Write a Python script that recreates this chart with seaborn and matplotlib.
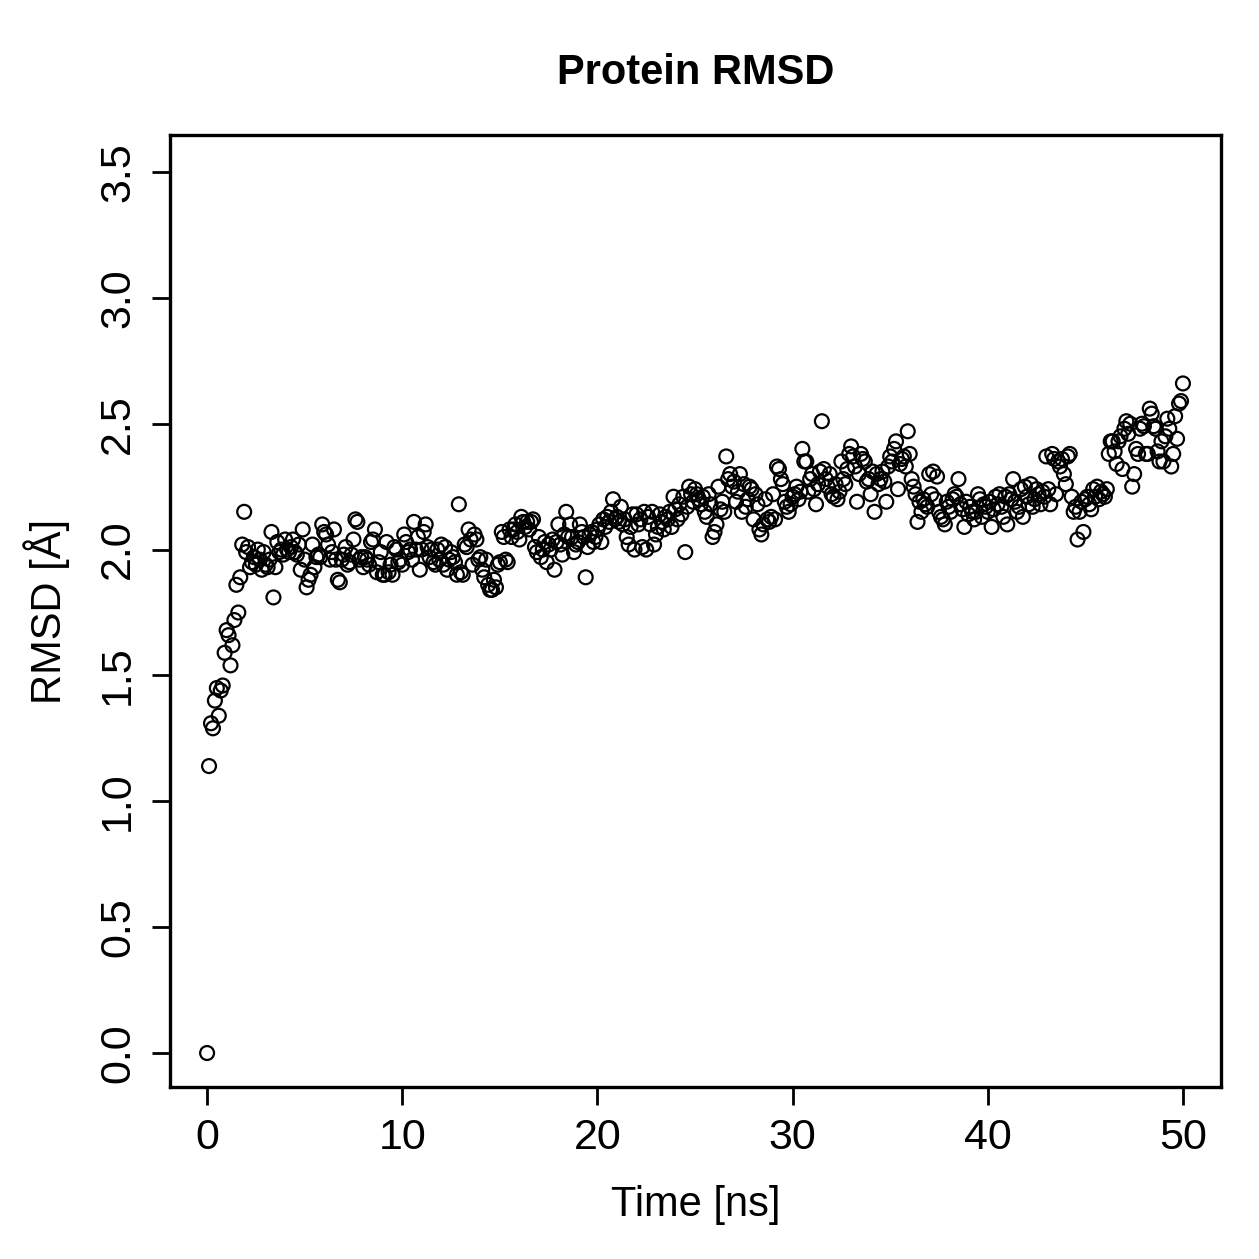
import numpy as np
import pandas as pd
import matplotlib
matplotlib.use("Agg")
import matplotlib.pyplot as plt
import seaborn as sns

# RMSD values, one row per nanosecond (0.1 ns step)
rmsd = [
    0.00, 1.14, 1.31, 1.29, 1.40, 1.45, 1.34, 1.44, 1.46, 1.59,
    1.68, 1.66, 1.54, 1.62, 1.72, 1.86, 1.75, 1.89, 2.02, 2.15,
    1.99, 2.01, 1.93, 1.95, 1.97, 1.94, 2.00, 1.96, 1.92, 1.99,
    1.94, 1.93, 1.96, 2.07, 1.81, 1.93, 2.03, 1.99, 2.00, 1.98,
    2.04, 2.00, 1.99, 2.01, 2.04, 1.99, 1.98, 2.02, 1.92, 2.08,
    1.96, 1.85, 1.88, 1.90, 2.02, 1.93, 1.97, 1.98, 1.97, 2.10,
    2.07, 2.06, 2.02, 1.96, 1.99, 2.08, 1.96, 1.88, 1.87, 1.96,
    1.98, 2.01, 1.94, 1.95, 1.98, 2.04, 2.12, 2.11, 1.96, 1.97,
    1.93, 1.97, 1.96, 1.94, 2.03, 2.04, 2.08, 1.91, 1.95, 1.99,
    1.90, 1.90, 2.03, 1.91, 1.94, 1.90, 2.01, 2.00, 1.95, 1.96,
    1.94, 2.06, 2.03, 1.99, 2.00, 1.96, 2.11, 2.00, 2.05, 1.92,
    2.00, 2.07, 2.10, 2.01, 1.97, 2.00, 1.95, 1.94, 2.00, 1.96,
    2.02, 1.94, 2.01, 1.92, 1.96, 1.99, 1.97, 1.95, 1.90, 2.18,
    1.91, 1.90, 2.02, 2.01, 2.08, 2.04, 1.94, 2.06, 2.04, 1.96,
    1.97, 1.92, 1.89, 1.96, 1.86, 1.84, 1.84, 1.88, 1.85, 1.94,
    1.95, 2.07, 2.05, 1.96, 1.95, 2.08, 2.05, 2.08, 2.10, 2.07,
    2.04, 2.13, 2.11, 2.09, 2.11, 2.08, 2.11, 2.12, 2.01, 1.99,
    2.05, 1.97, 2.00, 2.03, 1.95, 2.02, 2.00, 2.04, 1.92, 2.03,
    2.10, 2.02, 1.98, 2.06, 2.15, 2.05, 2.10, 2.05, 1.99, 2.02,
    2.03, 2.10, 2.07, 2.05, 1.89, 2.01, 2.06, 2.07, 2.03, 2.05,
    2.08, 2.10, 2.03, 2.12, 2.09, 2.13, 2.11, 2.15, 2.20, 2.12,
    2.13, 2.11, 2.17, 2.10, 2.12, 2.05, 2.02, 2.09, 2.14, 2.00,
    2.14, 2.10, 2.12, 2.01, 2.15, 2.00, 2.13, 2.10, 2.15, 2.02,
    2.06, 2.09, 2.14, 2.11, 2.08, 2.13, 2.12, 2.15, 2.09, 2.21,
    2.16, 2.12, 2.18, 2.14, 2.21, 1.99, 2.17, 2.25, 2.22, 2.19,
    2.24, 2.22, 2.20, 2.18, 2.21, 2.15, 2.13, 2.22, 2.18, 2.05,
    2.07, 2.10, 2.25, 2.16, 2.19, 2.15, 2.37, 2.28, 2.30, 2.25,
    2.27, 2.19, 2.23, 2.30, 2.15, 2.26, 2.17, 2.20, 2.25, 2.24,
    2.12, 2.22, 2.18, 2.08, 2.06, 2.10, 2.20, 2.12, 2.11, 2.13,
    2.22, 2.12, 2.33, 2.32, 2.28, 2.26, 2.19, 2.17, 2.15, 2.18,
    2.21, 2.22, 2.25, 2.20, 2.23, 2.40, 2.35, 2.35, 2.23, 2.28,
    2.30, 2.24, 2.18, 2.26, 2.31, 2.51, 2.32, 2.28, 2.25, 2.30,
    2.22, 2.21, 2.26, 2.20, 2.23, 2.35, 2.28, 2.26, 2.32, 2.38,
    2.41, 2.37, 2.33, 2.19, 2.30, 2.38, 2.36, 2.35, 2.27, 2.28,
    2.22, 2.31, 2.15, 2.30, 2.26, 2.28, 2.31, 2.27, 2.19, 2.33,
    2.37, 2.35, 2.40, 2.43, 2.24, 2.34, 2.36, 2.37, 2.33, 2.47,
    2.38, 2.28, 2.25, 2.22, 2.11, 2.19, 2.15, 2.20, 2.18, 2.17,
    2.30, 2.22, 2.31, 2.20, 2.29, 2.15, 2.13, 2.12, 2.10, 2.19,
    2.17, 2.15, 2.20, 2.22, 2.21, 2.28, 2.18, 2.16, 2.09, 2.19,
    2.14, 2.17, 2.15, 2.12, 2.15, 2.22, 2.20, 2.13, 2.18, 2.17,
    2.15, 2.19, 2.09, 2.16, 2.21, 2.18, 2.22, 2.17, 2.13, 2.21,
    2.10, 2.22, 2.20, 2.28, 2.19, 2.15, 2.17, 2.24, 2.13, 2.25,
    2.21, 2.18, 2.26, 2.17, 2.20, 2.24, 2.22, 2.18, 2.23, 2.21,
    2.37, 2.24, 2.18, 2.38, 2.36, 2.22, 2.35, 2.33, 2.36, 2.30,
    2.26, 2.37, 2.38, 2.21, 2.15, 2.17, 2.04, 2.15, 2.19, 2.07,
    2.20, 2.21, 2.18, 2.16, 2.24, 2.21, 2.25, 2.20, 2.23, 2.22,
    2.21, 2.24, 2.38, 2.43, 2.43, 2.39, 2.34, 2.43, 2.45, 2.32,
    2.48, 2.51, 2.46, 2.50, 2.25, 2.30, 2.40, 2.38, 2.48, 2.50,
    2.49, 2.38, 2.38, 2.56, 2.54, 2.49, 2.48, 2.39, 2.35, 2.43,
    2.35, 2.45, 2.52, 2.48, 2.33, 2.38, 2.53, 2.44, 2.58, 2.59,
    2.66,
]
time_ns = np.round(np.arange(len(rmsd)) * 0.1, 1)

x_ticks = [0, 10, 20, 30, 40, 50]
y_ticks = [0.0, 0.5, 1.0, 1.5, 2.0, 2.5, 3.0, 3.5]
y_tick_labels = ["0.0", "0.5", "1.0", "1.5", "2.0", "2.5", "3.0", "3.5"]

df = pd.DataFrame({"time": time_ns, "rmsd": rmsd})

sns.set_style("white")
plt.rcParams["font.family"] = ["Liberation Sans", "DejaVu Sans"]
plt.rcParams["text.color"] = "black"
plt.rcParams["axes.labelcolor"] = "black"

fig = plt.figure(figsize=(12.59, 12.59), dpi=100)
ax = fig.add_axes([170 / 1259, 1 - 1087 / 1259, (1221 - 170) / 1259, (1087 - 135) / 1259])

sns.scatterplot(data=df, x="time", y="rmsd", ax=ax, marker="o", s=100,
                linewidth=1.6, legend=False, zorder=3)
pts = ax.collections[0]
pts.set_facecolor("none")
pts.set_edgecolor("black")
pts.set_linewidth(1.6)

ax.set_xlim(-1.9, 51.95)
ax.set_ylim(-0.135, 3.647)
ax.set_xticks(x_ticks)
ax.set_xticklabels([str(v) for v in x_ticks])
ax.set_yticks(y_ticks)
ax.set_yticklabels(y_tick_labels, rotation=90, va="center")

for sp in ax.spines.values():
    sp.set_visible(True)
    sp.set_color("black")
    sp.set_linewidth(2.4)

ax.tick_params(axis="both", which="major", direction="out", length=13, width=2,
               color="black", labelsize=31, labelcolor="black", pad=9,
               bottom=True, left=True)
ax.tick_params(axis="y", pad=10)

ax.set_xlabel("Time [ns]", fontsize=30, labelpad=20, color="black")
ax.set_ylabel("RMSD [Å]", fontsize=30, labelpad=20, color="black")
ax.set_title("Protein RMSD", fontsize=30, fontweight="bold", pad=37, color="black")

fig.savefig("out.png", dpi=100, facecolor="white")
